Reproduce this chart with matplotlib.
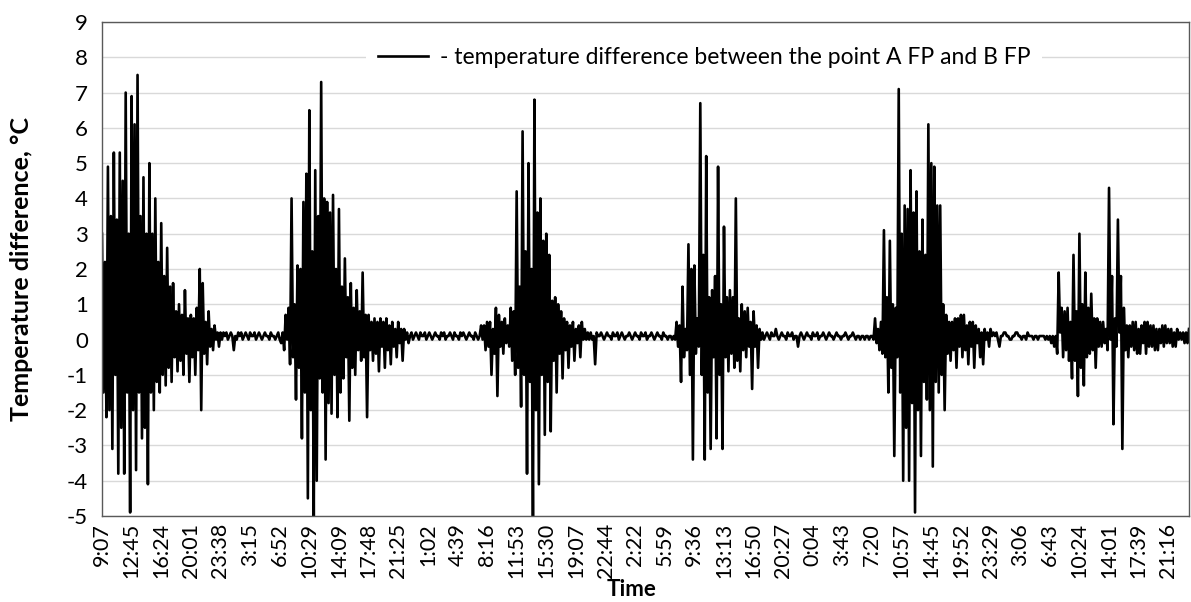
import matplotlib.pyplot as plt
import numpy as np

# category labels shown on the x axis (every 20th sample)
time_labels = ['9:07', '12:45', '16:24', '20:01', '23:38', '3:15', '6:52', '10:29',
               '14:09', '17:48', '21:25', '1:02', '4:39', '8:16', '11:53', '15:30',
               '19:07', '22:44', '2:22', '5:59', '9:36', '13:13', '16:50', '20:27',
               '0:04', '3:43', '7:20', '10:57', '14:45', '19:52', '23:29', '3:06',
               '6:43', '10:24', '14:01', '17:39', '21:16']

# temperature difference
burst_1 = [3.0, -1.5, 2.2, -2.2, 4.9, -2.0, 3.5, -3.1, 5.3, -1.0,
           3.4, -3.8, 5.3, -2.5, 4.5, -3.8, 7.0, -1.5, 3.0, -4.9,
           6.9, -2.0, 6.1, -3.7, 7.5, -1.5, 3.5, -2.8, 4.6, -2.5,
           3.0, -4.1, 5.0, -1.5, 3.0, -2.0, 4.0, -1.2, 2.2, -1.5,
           3.3, -1.0, 1.8, -1.3, 2.6, -0.8, 1.5, -1.2, 1.6, -0.5,
           0.8, -0.9, 1.0, -0.6, 0.7, -1.0, 1.4, -0.4, 0.6, -1.2,
           0.7, -0.5, 0.6, -1.0, 0.9, -0.3, 2.0, -2.0, 1.6, -0.4,
           0.5, -0.7, 0.8, -0.2, 0.3, -0.3, 0.4, 0.0, 0.2, -0.2]
quiet_1 = [0.2, 0.0, 0.2, 0.1, 0.2, 0.0, 0.1, 0.2, 0.1, -0.3,
           0.1, 0.0, 0.2, 0.1, 0.2, 0.0, 0.1, 0.2, 0.1, 0.0,
           0.2, 0.1, 0.1, 0.2, 0.0, 0.1, 0.2, 0.1, 0.0, 0.1,
           0.2, 0.1, 0.1, 0.0, 0.2, 0.1, 0.1, 0.0, 0.1, 0.2,
           0.0, -0.1]
burst_2 = [0.2, -0.3, 0.7, 0.0, 0.9, -0.7, 4.0, -0.5, 1.0, -1.7,
           2.1, -0.8, 2.0, -2.8, 3.9, -1.5, 4.7, -4.5, 6.5, -2.0,
           2.5, -5.0, 4.8, -4.0, 3.5, -1.1, 7.3, -1.5, 4.0, -3.4,
           3.9, -1.8, 3.6, -2.1, 4.1, -1.0, 2.0, -2.2, 3.7, -1.5,
           1.5, -1.1, 2.3, -0.5, 1.2, -2.3, 1.6, -0.8, 0.9, -1.0,
           1.4, -0.3, 0.8, -0.6, 1.9, -0.5, 0.7, -2.2, 0.7, -0.3,
           0.5, -0.6, 0.6, -0.4, 0.5, -0.9, 0.6, -0.2, 0.5, -0.8,
           0.6, -0.3, 0.4, -0.7, 0.5, -0.2, 0.3, -0.5, 0.5, -0.1,
           0.3, -0.6, 0.3, 0.0, 0.2, -0.1]
quiet_2 = [0.1, 0.2, 0.0, 0.1, 0.2, 0.1, 0.0, 0.2, 0.1, 0.1,
           0.2, 0.0, 0.1, 0.2, 0.1, 0.0, 0.1, 0.2, 0.1, 0.1,
           0.0, 0.2, 0.1, 0.2, 0.0, 0.1, 0.1, 0.2, 0.1, 0.0,
           0.2, 0.1, 0.1, 0.0, 0.2, 0.1, 0.2, 0.1, 0.0, 0.1,
           0.2, 0.1, 0.1, 0.0, 0.2, 0.1, 0.0, 0.1]
burst_3 = [0.4, 0.0, 0.4, -0.3, 0.5, -0.2, 0.5, -1.0, 0.3, -0.4,
           0.9, -1.6, 0.7, -0.2, 0.5, -0.4, 0.6, -0.1, 0.4, -0.2,
           0.9, -0.6, 0.8, -1.0, 4.2, -0.8, 1.5, -1.9, 5.9, -1.0,
           2.5, -3.8, 5.0, -1.2, 2.0, -5.0, 6.8, -2.0, 3.6, -4.1,
           4.0, -1.0, 2.8, -2.7, 3.0, -1.2, 2.4, -2.6, 1.1, -0.6,
           1.2, -1.5, 1.0, -0.4, 0.8, -1.1, 0.6, -0.3, 0.5, -0.8,
           0.4, -0.2, 0.5, -0.6, 0.3, -0.1, 0.4, -0.5, 0.5, 0.0,
           0.3, 0.0, 0.2, 0.0, 0.2, 0.0, 0.1, -0.7, 0.2, 0.1]
quiet_3 = [0.1, 0.2, 0.1, 0.0, 0.1, 0.2, 0.1, 0.1, 0.0, 0.2,
           0.1, 0.1, 0.2, 0.0, 0.1, 0.2, 0.1, 0.0, 0.1, 0.1,
           0.2, 0.1, 0.0, 0.1, 0.2, 0.1, 0.1, 0.0, 0.2, 0.1,
           0.1, 0.2, 0.0, 0.1, 0.1, 0.2, 0.1, 0.0, 0.1, 0.2,
           0.1, 0.1, 0.0, 0.2, 0.1, 0.1, 0.0, 0.1, 0.1, 0.0]
burst_4 = [0.1, 0.0, 0.5, -0.2, 0.4, -1.2, 1.5, -0.5, 0.3, -0.3,
           2.7, -1.0, 2.0, -3.4, 2.1, -0.4, 0.6, -0.2, 6.7, -1.0,
           2.4, -3.4, 5.2, -1.5, 1.2, -3.1, 1.4, -0.5, 1.8, -2.8,
           4.9, -1.0, 1.0, -3.1, 3.2, -0.5, 1.2, -0.9, 1.4, -0.4,
           1.2, -0.8, 4.0, -0.6, 0.6, -0.9, 1.0, -0.3, 0.8, -0.5,
           0.9, -0.2, 0.5, -1.4, 0.8, -0.2, 0.4, -0.8, 0.3, 0.0,
           0.2, 0.0]
quiet_4 = [0.1, 0.2, 0.1, 0.0, 0.2, 0.1, 0.1, 0.3, 0.1, 0.0,
           0.1, 0.2, 0.1, 0.1, 0.0, 0.2, 0.1, 0.1, 0.2, 0.0,
           0.1, 0.1, -0.2, 0.1, 0.2, 0.1, 0.0, 0.1, 0.2, 0.1,
           0.1, 0.0, 0.2, 0.1, 0.1, 0.2, 0.0, 0.1, 0.1, 0.2,
           0.1, 0.0, 0.1, 0.2, 0.1, 0.1, 0.0, 0.1, 0.2, 0.1,
           0.1, 0.0, 0.1, 0.1, 0.2, 0.1, 0.0, 0.1, 0.1, 0.2,
           0.1, 0.0, 0.1, 0.1, 0.0, 0.1, 0.1, 0.0, 0.1, 0.1,
           0.0, 0.1]
burst_5 = [0.1, 0.0, 0.6, -0.1, 0.3, -0.3, 0.5, -0.4, 3.1, -0.5,
           1.2, -1.5, 2.8, -0.8, 1.0, -3.3, 0.9, -0.5, 7.1, -1.5,
           3.0, -4.0, 3.8, -2.5, 3.7, -4.0, 4.8, -1.8, 3.6, -4.9,
           4.2, -2.0, 2.5, -3.3, 3.4, -1.2, 2.4, -1.7, 6.1, -2.0,
           5.0, -3.6, 4.9, -1.2, 3.8, -1.5, 3.8, -1.0, 1.0, -2.0,
           0.7, -0.4, 0.5, -0.6, 0.5, -0.3, 0.6, -0.8, 0.6, -0.2,
           0.7, -0.5, 0.7, -0.3, 0.4, -0.7, 0.5, -0.2, 0.5, -0.8,
           0.4, -0.1, 0.3, -0.5, 0.2, -0.7, 0.3, 0.0, 0.2, -0.2]
quiet_5 = [0.3, 0.1, 0.2, 0.1, 0.2, 0.0, -0.2, 0.1, 0.1, 0.2,
           0.2, 0.1, 0.1, 0.0, 0.0, 0.1, 0.1, 0.2, 0.2, 0.1,
           0.1, 0.0, 0.1, 0.1, 0.0, 0.2, 0.1, 0.1, 0.1, 0.0,
           0.1, 0.1, 0.0, 0.1, 0.1, 0.1, 0.1, 0.0]
burst_6 = [0.1, 0.0, 0.1, -0.1, 0.1, -0.2, 0.1, -0.4, 1.9, 0.2,
           0.9, -0.5, 0.8, -0.3, 0.9, -0.6, 0.5, -1.1, 2.4, -0.6,
           0.8, -1.6, 3.0, -0.8, 1.0, -1.3, 1.9, -0.5, 0.9, -0.4,
           1.3, -0.3, 0.6, -0.8, 0.6, -0.2, 0.5, -0.2, 0.5, -0.1,
           0.3, -0.3, 4.3, 0.0, 1.8, -2.4, 0.6, -0.2, 3.4, 0.2,
           1.8, -3.1, 0.9, -0.3, 0.4, -0.5, 0.4, -0.2, 0.5, -0.3,
           0.5, -0.4, 0.3, -0.4, 0.4, -0.1, 0.5, -0.4, 0.5, -0.2,
           0.4, -0.2, 0.4, -0.3, 0.3, -0.3, 0.3, -0.1, 0.4, -0.2,
           0.4, -0.1, 0.3, -0.1, 0.3, -0.2, 0.2, -0.2, 0.3, 0.0,
           0.2, 0.0, 0.2, -0.1, 0.2, -0.1, 0.3]

temp_diff = (burst_1 + quiet_1 + burst_2 + quiet_2 + burst_3 + quiet_3
             + burst_4 + quiet_4 + burst_5 + quiet_5 + burst_6)

plt.rcParams['font.family'] = ['Lato', 'DejaVu Sans']
plt.rcParams['axes.unicode_minus'] = False

W, H = 1191, 602
left, right, top, bottom = 102, 1189, 22, 516
fig = plt.figure(figsize=(W / 100, H / 100), dpi=100)
ax = fig.add_axes([left / W, 1 - bottom / H, (right - left) / W, (bottom - top) / H])

x = np.arange(len(temp_diff))
ax.plot(x, temp_diff, color='black', lw=1.9,
        label='- temperature difference between the point A FP and B FP')

ax.set_xlim(0, len(temp_diff) - 1)
ax.set_ylim(-5, 9)
ax.set_yticks(range(-5, 10))
ax.set_xticks(np.arange(len(time_labels)) * 20)
ax.set_xticklabels(time_labels, rotation=90)
ax.grid(axis='y', color='#d9d9d9', lw=1)
ax.set_axisbelow(True)
ax.tick_params(axis='x', length=0, labelsize=15.5, pad=5)
ax.tick_params(axis='y', length=0, labelsize=16, pad=10)
for s in ax.spines.values():
    s.set_color('#595959')
    s.set_linewidth(1)

ax.set_xlabel('Time', fontweight='bold', fontsize=16)
ax.xaxis.set_label_coords((632 - left) / (right - left), -(579 - bottom) / (bottom - top))
ax.set_ylabel('Temperature difference, °C', fontweight='bold', fontsize=18)
ax.yaxis.set_label_coords(-(left - 33) / (right - left), 0.5)

leg = ax.legend(loc='center', bbox_to_anchor=(0.554, 0.929), fontsize=16.5,
                frameon=True, fancybox=False, framealpha=1, handlelength=2.2,
                handletextpad=0.5, borderpad=0.5, borderaxespad=0)
leg.get_frame().set_edgecolor('none')
leg.get_frame().set_facecolor('white')

fig.savefig('out.png', dpi=100)
